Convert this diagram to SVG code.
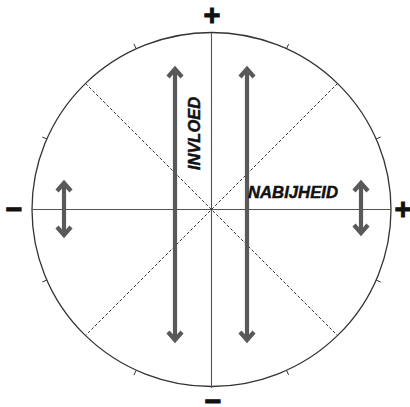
<svg xmlns="http://www.w3.org/2000/svg" width="410" height="407" viewBox="0 0 410 407">
<style>
.circ{fill:none;stroke:#333;stroke-width:1.3}
.axis{stroke:#555;stroke-width:1.1}
.dash{stroke:#333;stroke-width:1;stroke-dasharray:3,2}
.tick{stroke:#333;stroke-width:1}
.arr{stroke:#595959;stroke-width:4.2;fill:none;stroke-linejoin:miter;stroke-linecap:butt}
.lbl{font-family:"Liberation Sans",Arial,sans-serif;font-weight:bold;font-style:italic;fill:#111;stroke:#111;stroke-width:0.45}
.sign{font-family:"Liberation Sans",Arial,sans-serif;font-weight:bold;font-size:29px;fill:#111;stroke:#111;stroke-width:0.9;text-anchor:middle}
</style>
<rect width="410" height="407" fill="#fff"/>
<g id="circle">
<ellipse class="circ" cx="211.5" cy="209.5" rx="179.5" ry="177"/>
<g id="ticks">
<line class="tick" x1="136" y1="48.4" x2="133.9" y2="43.9"/>
<line class="tick" x1="286.5" y1="48.7" x2="288.6" y2="44.2"/>
<line class="tick" x1="136" y1="370.6" x2="133.9" y2="375.1"/>
<line class="tick" x1="286.5" y1="370.3" x2="288.6" y2="374.8"/>
<line class="tick" x1="46.9" y1="139" x2="42.3" y2="137"/>
<line class="tick" x1="376.1" y1="139" x2="380.7" y2="137"/>
<line class="tick" x1="46.9" y1="280" x2="42.3" y2="282"/>
<line class="tick" x1="376.1" y1="280" x2="380.7" y2="282"/>
</g>
</g>
<g id="connectors">
<line class="axis" x1="211.5" y1="33" x2="211.5" y2="388"/>
<line class="axis" x1="32" y1="209.5" x2="391" y2="209.5"/>
<line class="dash" x1="85.5" y1="83.5" x2="337.5" y2="335.5"/>
<line class="dash" x1="337.5" y1="83.5" x2="85.5" y2="335.5"/>
</g>
<g id="arrow-left-big">
<line class="arr" x1="175" y1="68" x2="175" y2="341"/>
<polyline class="arr" points="168,77 175,69 182,77"/>
<polyline class="arr" points="168,332 175,340 182,332"/>
</g>
<g id="arrow-right-big">
<line class="arr" x1="247" y1="68" x2="247" y2="341"/>
<polyline class="arr" points="240,77 247,69 254,77"/>
<polyline class="arr" points="240,332 247,340 254,332"/>
</g>
<g id="arrow-left-small">
<line class="arr" x1="64" y1="183" x2="64" y2="235"/>
<polyline class="arr" points="57,191 64,183 71,191"/>
<polyline class="arr" points="57,227 64,235 71,227"/>
</g>
<g id="arrow-right-small">
<line class="arr" x1="361" y1="183" x2="361" y2="233"/>
<polyline class="arr" points="354,191 361,183 368,191"/>
<polyline class="arr" points="354,225 361,233 368,225"/>
</g>
<g id="label-invloed">
<text class="lbl" font-size="16" transform="translate(200,170) rotate(-90)" textLength="73" lengthAdjust="spacingAndGlyphs">INVLOED</text>
</g>
<g id="label-nabijheid">
<text class="lbl" font-size="17" x="248" y="198" textLength="90" lengthAdjust="spacingAndGlyphs">NABIJHEID</text>
</g>
<g id="signs">
<text class="sign" x="212" y="25">+</text>
<text class="sign" x="14" y="219">−</text>
<text class="sign" x="403" y="219">+</text>
<text class="sign" x="213" y="411">−</text>
</g>
</svg>
